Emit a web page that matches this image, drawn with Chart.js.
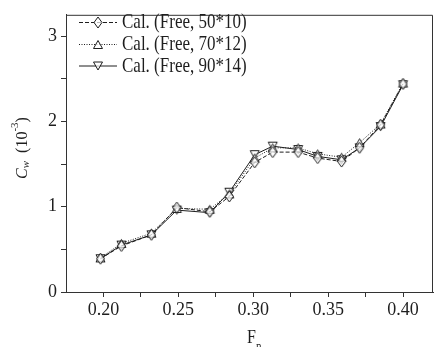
<!DOCTYPE html>
<html>
<head>
<meta charset="utf-8">
<script src="https://cdn.jsdelivr.net/npm/chart.js@4/dist/chart.umd.min.js"></script>
<style>
  html, body { margin: 0; padding: 0; background: #fff; }
  #wrap { width: 439px; height: 347px; }
</style>
</head>
<body>
<div id="wrap"><canvas id="c" width="439" height="347"></canvas></div>
<script>
// ---- data ----
const fn = [0.198, 0.212, 0.232, 0.249, 0.271, 0.284, 0.301, 0.313, 0.330, 0.343, 0.359, 0.371, 0.385, 0.400];
const cw50x10 = [0.39, 0.54, 0.67, 0.99, 0.94, 1.12, 1.52, 1.64, 1.64, 1.57, 1.53, 1.69, 1.96, 2.44];
const cw70x12 = [0.40, 0.57, 0.69, 0.98, 0.97, 1.15, 1.57, 1.69, 1.69, 1.62, 1.58, 1.75, 1.97, 2.45];
const cw90x14 = [0.39, 0.55, 0.67, 0.96, 0.93, 1.17, 1.61, 1.71, 1.67, 1.59, 1.55, 1.69, 1.94, 2.43];
const seriesLabels = ['Cal. (Free, 50*10)', 'Cal. (Free, 70*12)', 'Cal. (Free, 90*14)'];
const xTickValues = [0.200, 0.225, 0.250, 0.275, 0.300, 0.325, 0.350, 0.375, 0.400];
const xTickLabels = ['0.20', '', '0.25', '', '0.30', '', '0.35', '', '0.40'];
const yTickValues = [0, 0.5, 1, 1.5, 2, 2.5, 3];
const yTickLabels = ['0', '', '1', '', '2', '', '3'];

const INK = '#1e1e1e';
const SERIF = '"Liberation Serif", "Times New Roman", serif';

function pts(ys) { return fn.map((x, i) => ({ x: x, y: ys[i] })); }

const styles = [
  { dash: [4, 2], marker: 'diamond' },
  { dash: [1, 1.5], marker: 'triangle' },
  { dash: [], marker: 'invtriangle' }
];

// marker path: hollow, slightly taller than wide like the reference
function markerPath(ctx, kind, x, y) {
  ctx.beginPath();
  if (kind === 'diamond') {
    const hw = 4, hh = 5.5;
    ctx.moveTo(x, y - hh); ctx.lineTo(x + hw, y); ctx.lineTo(x, y + hh); ctx.lineTo(x - hw, y); ctx.closePath();
  } else {
    const s = kind === 'triangle' ? 1 : -1;
    const hw = 4.5, hh = 4;
    ctx.moveTo(x, y - s * hh);
    ctx.lineTo(x + hw, y + s * hh);
    ctx.lineTo(x - hw, y + s * hh);
    ctx.closePath();
  }
}
function drawMarker(ctx, kind, x, y) {
  markerPath(ctx, kind, x, y);
  ctx.fillStyle = 'rgba(255,255,255,0.7)';
  ctx.fill();
  ctx.setLineDash([]);
  ctx.lineWidth = 1;
  ctx.strokeStyle = INK;
  ctx.stroke();
}
function markerCanvas(kind) {
  const cv = document.createElement('canvas');
  cv.width = 13; cv.height = 15;
  const c = cv.getContext('2d');
  drawMarker(c, kind, 6.5, 7.5);
  return cv;
}

const datasets = [cw50x10, cw70x12, cw90x14].map((ys, i) => ({
  label: seriesLabels[i],
  data: pts(ys),
  borderColor: INK,
  borderWidth: 1,
  borderDash: styles[i].dash,
  pointStyle: markerCanvas(styles[i].marker),
  pointRadius: 5,
  tension: 0,
  fill: false
}));

const decor = {
  id: 'decor',
  afterDraw(chart) {
    const ctx = chart.ctx;
    const a = chart.chartArea;
    ctx.save();
    // top and right frame
    ctx.strokeStyle = '#333';
    ctx.lineWidth = 1;
    ctx.setLineDash([]);
    ctx.beginPath();
    ctx.moveTo(a.left, a.top + 0.5);
    ctx.lineTo(a.right - 0.5, a.top + 0.5);
    ctx.lineTo(a.right - 0.5, a.bottom);
    ctx.stroke();

    // legend
    const rows = [22, 44, 65.5];
    seriesLabels.forEach((lab, i) => {
      const y = rows[i];
      ctx.beginPath();
      ctx.setLineDash(styles[i].dash);
      ctx.strokeStyle = INK;
      ctx.lineWidth = 1;
      ctx.moveTo(79, y + 0.5);
      ctx.lineTo(117, y + 0.5);
      ctx.stroke();
      drawMarker(ctx, styles[i].marker, 98, y + 0.5);
      ctx.save();
      ctx.translate(122, y + 1);
      ctx.scale(1, 1.2);
      ctx.fillStyle = INK;
      ctx.font = '17px ' + SERIF;
      ctx.textBaseline = 'middle';
      ctx.textAlign = 'left';
      ctx.fillText(lab, 0, 0);
      ctx.restore();
    });

    // y title: C_w (10^-3)
    ctx.save();
    ctx.fillStyle = INK;
    ctx.textBaseline = 'alphabetic';
    ctx.translate(27, 148);
    ctx.rotate(-Math.PI / 2);
    const parts = [
      { t: 'C', f: 'italic 16px ' + SERIF, dy: 0 },
      { t: 'w', f: 'italic 11px ' + SERIF, dy: 2 },
      { t: '  (10', f: '16px ' + SERIF, dy: 0 },
      { t: '-3', f: '11px ' + SERIF, dy: -9 },
      { t: ')', f: '16px ' + SERIF, dy: 0 }
    ];
    let total = 0;
    parts.forEach(p => { ctx.font = p.f; p.w = ctx.measureText(p.t).width; total += p.w; });
    let cx = -total / 2;
    parts.forEach(p => { ctx.font = p.f; ctx.fillText(p.t, cx, p.dy); cx += p.w; });
    ctx.restore();

    // x title: F_n
    ctx.save();
    ctx.fillStyle = INK;
    ctx.translate(247, 343);
    ctx.scale(1, 1.2);
    ctx.font = '16px ' + SERIF;
    ctx.textBaseline = 'alphabetic';
    ctx.fillText('F', 0, 0);
    const fw = ctx.measureText('F').width;
    ctx.font = '11px ' + SERIF;
    ctx.fillText('n', fw, 6);
    ctx.restore();

    ctx.restore();
  }
};

new Chart(document.getElementById('c'), {
  type: 'line',
  data: { datasets: datasets },
  options: {
    responsive: false,
    devicePixelRatio: 1,
    animation: false,
    layout: { padding: { left: 0, top: 11, right: 1, bottom: 0 } },
    plugins: { legend: { display: false }, tooltip: { enabled: false }, title: { display: false } },
    scales: {
      x: {
        type: 'linear',
        position: 'bottom',
        min: 0.175,
        max: 0.42,
        afterBuildTicks(scale) { scale.ticks = xTickValues.map(v => ({ value: v })); },
        afterFit(scale) { scale.height = 55; },
        grid: { drawOnChartArea: false, drawTicks: true, tickLength: 5, color: '#333', lineWidth: 1 },
        border: { display: true, color: '#333', width: 1 },
        ticks: {
          autoSkip: false, maxRotation: 0, padding: 2, color: INK,
          font: { family: SERIF, size: 18 },
          callback(v, i) { return xTickLabels[i]; }
        }
      },
      y: {
        type: 'linear',
        min: 0,
        max: 3.25,
        afterBuildTicks(scale) { scale.ticks = yTickValues.map(v => ({ value: v })); },
        afterFit(scale) { scale.width = 66; },
        grid: { drawOnChartArea: false, drawTicks: true, tickLength: 5, color: '#333', lineWidth: 1 },
        border: { display: true, color: '#333', width: 1 },
        ticks: {
          padding: 4, color: INK,
          font: { family: SERIF, size: 18 },
          callback(v, i) { return yTickLabels[i]; }
        }
      }
    }
  },
  plugins: [decor]
});
</script>
</body>
</html>
